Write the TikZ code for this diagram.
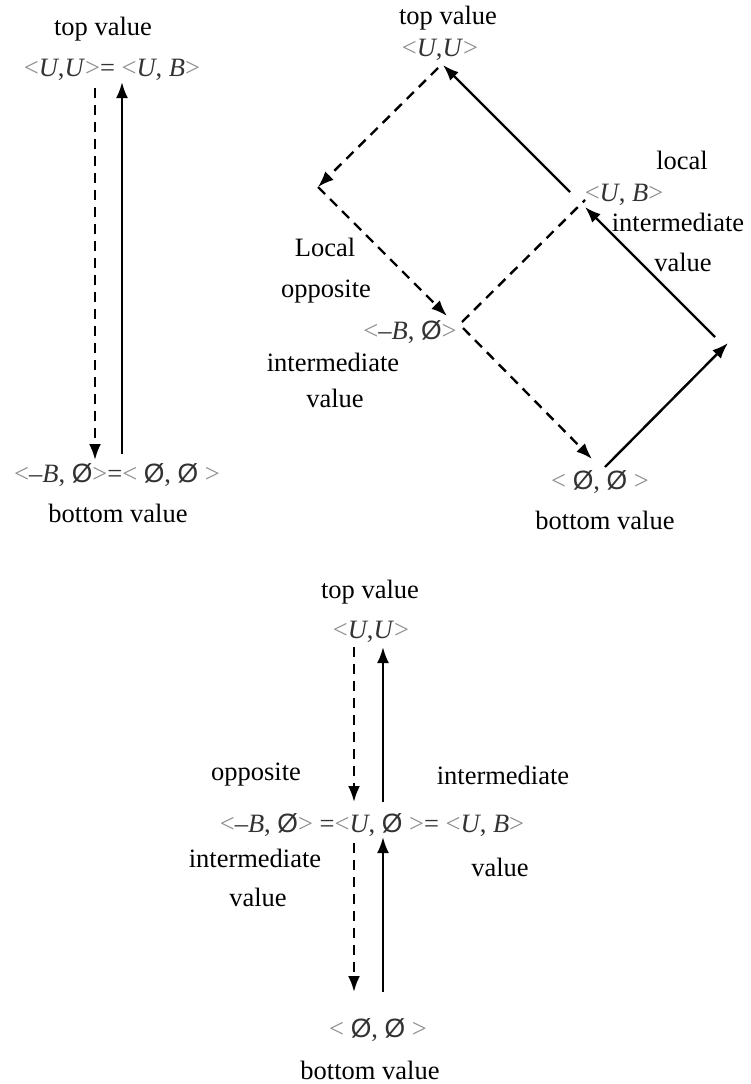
\documentclass[tikz,border=0pt]{standalone}
\usepackage{fontspec}
\setmainfont{Liberation Serif}
\newfontfamily\symsans{Liberation Sans}
\usetikzlibrary{arrows.meta}
\definecolor{anglegray}{gray}{0.55}
\newcommand{\lang}{{\color{anglegray}<}}
\newcommand{\rang}{{\color{anglegray}>}}
\newcommand{\emp}{{\symsans Ø}}
\newcommand{\vU}{\textit{U}}
\newcommand{\vB}{\textit{B}}
\begin{document}
\begin{tikzpicture}[x=1pt,y=-1pt,
  lbl/.style={font=\fontsize{26.5}{30}\selectfont, inner sep=0pt, anchor=center},
  val/.style={lbl, text=black!80},
  solidarrow/.style={line width=2.4pt, -{Latex[length=16pt,width=12pt]}},
  dasharrow/.style={solidarrow, dash pattern=on 10pt off 7pt},
  dashline/.style={line width=2.4pt, dash pattern=on 10pt off 7pt}]
\useasboundingbox (0,0) rectangle (751,1084);

% ---------- left lattice: two-element chain ----------
\node[lbl] (ltop) at (103,29) {top value};
\node[val] (luu)  at (112,70) {\lang\vU,\vU\rang= \lang\vU, \vB\rang};
\node[val] (lbot) at (117,475) {\lang–\vB, \emp\rang=\lang\ \emp, \emp\ \rang};
\node[lbl] (lbv)  at (118,513) {bottom value};
\coordinate (l1) at (95,88);  \coordinate (l2) at (95,460);
\coordinate (l3) at (122,454); \coordinate (l4) at (122,82);
\draw[dasharrow]  (l1) -- (l2);
\draw[solidarrow] (l3) -- (l4);

% ---------- right lattice: diamond ----------
\node[lbl] (rtop) at (448,18) {top value};
\node[val] (ruu)  at (440,50) {\lang\vU,\vU\rang};
\node[lbl] (rloc) at (682,160) {local};
\node[val] (rub)  at (624,195) {\lang\vU, \vB\rang};
\node[lbl] (rint) at (678,222) {intermediate};
\node[lbl] (rval) at (683,262) {value};
\node[lbl] (lLoc) at (325,247) {Local};
\node[lbl] (lopp) at (326,292) {opposite};
\node[val] (rbn)  at (410,332) {\lang–\vB, \emp\rang};
\node[lbl] (lint) at (333,362) {intermediate};
\node[lbl] (lval) at (335,398) {value};
\node[val] (rbot) at (600,482) {\lang\ \emp, \emp\ \rang};
\node[lbl] (rbv)  at (605,520) {bottom value};

\coordinate (t1) at (438,68);  \coordinate (c1) at (318,187);
\coordinate (m1) at (447,316);
\coordinate (m2) at (462,322); \coordinate (u1) at (585,200);
\coordinate (m3) at (463,328); \coordinate (b1) at (592,459);
\coordinate (b2) at (605,467); \coordinate (r1) at (728,343);
\coordinate (r2) at (715,337); \coordinate (u2) at (585,207);
\coordinate (u3) at (570,192); \coordinate (t2) at (443,65);
\draw[dasharrow]  (t1) -- (c1);
\draw[dasharrow]  (c1) -- (m1);
\draw[dashline]   (m2) -- (u1);
\draw[dasharrow]  (m3) -- (b1);
\draw[solidarrow] (b2) -- (r1);
\draw[solidarrow] (r2) -- (u2);
\draw[solidarrow] (u3) -- (t2);

% ---------- bottom lattice: three-element chain ----------
\node[lbl] (btop) at (370,592) {top value};
\node[val] (buu)  at (371,632) {\lang\vU,\vU\rang};
\node[lbl] (bopp) at (256,775) {opposite};
\node[lbl] (bint) at (503,775) {intermediate};
\node[val] (bmid) at (372,825) {\lang–\vB, \emp\rang\ =\lang\vU, \emp\ \rang= \lang\vU, \vB\rang};
\node[lbl] (bli)  at (255,858) {intermediate};
\node[lbl] (blv)  at (258,897) {value};
\node[lbl] (brv)  at (500,867) {value};
\node[val] (bbot) at (378,1030) {\lang\ \emp, \emp\ \rang};
\node[lbl] (bbv)  at (370,1070) {bottom value};

\coordinate (d1) at (354,647); \coordinate (d2) at (354,802);
\coordinate (s1) at (383,802); \coordinate (s2) at (383,647);
\coordinate (d3) at (354,843); \coordinate (d4) at (354,992);
\coordinate (s3) at (383,992); \coordinate (s4) at (383,837);
\draw[dasharrow]  (d1) -- (d2);
\draw[solidarrow] (s1) -- (s2);
\draw[dasharrow]  (d3) -- (d4);
\draw[solidarrow] (s3) -- (s4);
\end{tikzpicture}
\end{document}
